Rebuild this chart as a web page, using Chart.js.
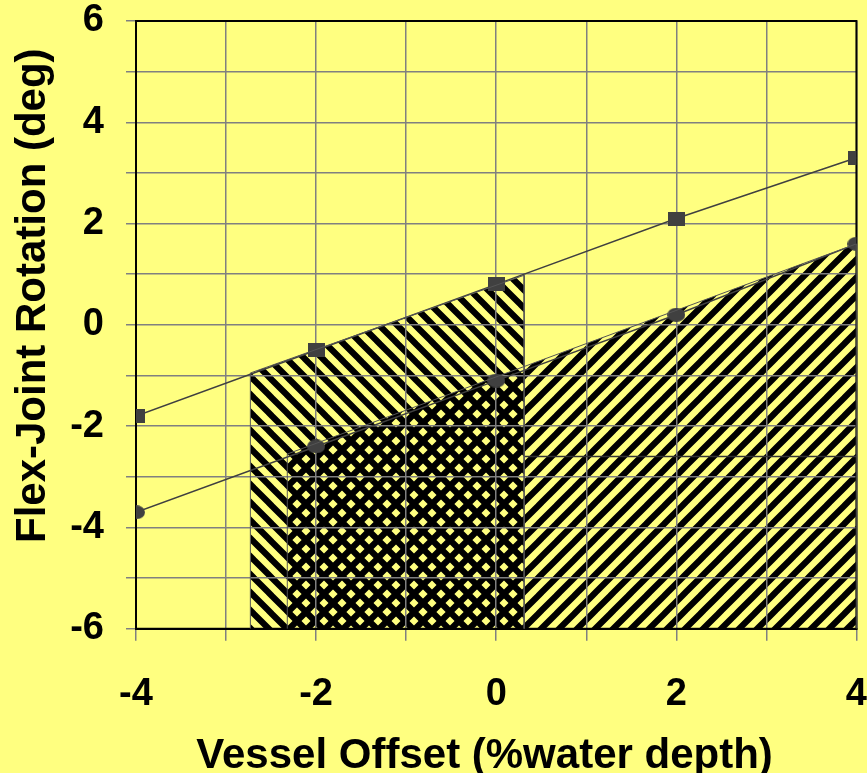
<!DOCTYPE html>
<html>
<head>
<meta charset="utf-8">
<title>Flex-Joint Rotation vs Vessel Offset</title>
<script src="https://cdn.jsdelivr.net/npm/chart.js@4.4.1/dist/chart.umd.min.js"></script>
<style>
  html, body { margin: 0; padding: 0; background: #FFFF80; }
  #wrap { width: 867px; height: 773px; }
</style>
</head>
<body>
<div id="wrap"><canvas id="flexChart" width="867" height="773"></canvas></div>
<script>
// Vessel offset (% water depth) at which rotations were computed
const offsets = [-4, -2, 0, 2, 4];
// Flex-joint rotation (deg), upper curve (square markers)
const rotationUpper = [-1.8, -0.5, 0.8, 2.1, 3.3];
// Flex-joint rotation (deg), lower curve (circle markers)
const rotationLower = [-3.7, -2.4, -1.1, 0.2, 1.6];

// Hatched band under the upper curve ("\\" hatch)
const bandUpperX = [-2.73, -2.73, 0.31, 0.31];
const bandUpperY = [-6, -0.95, 0.98, -6];
// Hatched band under the lower curve ("/" hatch)
const bandLowerX = [-2.32, -2.32, 4, 4];
const bandLowerY = [-6, -2.55, 1.6, -6];
// Faint seam line across the lower band
const seamX = [0.31, 4];
const seamY = [-2.6, -2.6];

// Axis ticks
const xTicks = [-4, -2, 0, 2, 4];
const yTicks = [-6, -4, -2, 0, 2, 4, 6];

const FONT = '"Liberation Sans", Arial, Helvetica, sans-serif';
const markerColor = '#404040';

// Build a diagonal hatch pattern (black stripes on transparent)
function makeHatch(direction) {
  const size = 18;
  const c = document.createElement('canvas');
  c.width = size;
  c.height = size;
  const g = c.getContext('2d');
  g.strokeStyle = '#000';
  g.lineWidth = 6.2;
  g.beginPath();
  if (direction === 'up') {
    // "/" stripes
    for (let k = -1; k <= 1; k++) {
      g.moveTo(k * size - 2, size + 2);
      g.lineTo(k * size + size + 2, -2);
    }
  } else {
    // "\" stripes
    for (let k = -1; k <= 1; k++) {
      g.moveTo(k * size - 2, -2);
      g.lineTo(k * size + size + 2, size + 2);
    }
  }
  g.stroke();
  return g.createPattern(c, 'repeat');
}

// Marker images (slightly wider than tall, like the original)
function makeMarker(shape) {
  const w = shape === 'rect' ? 17 : 18;
  const h = 14;
  const c = document.createElement('canvas');
  c.width = w;
  c.height = h;
  const g = c.getContext('2d');
  g.fillStyle = markerColor;
  if (shape === 'rect') {
    g.fillRect(0, 0, w, h);
  } else {
    g.beginPath();
    g.ellipse(w / 2, h / 2, w / 2, h / 2, 0, 0, Math.PI * 2);
    g.fill();
  }
  return c;
}

function toPoints(xs, ys) {
  return xs.map((x, i) => ({ x: x, y: ys[i] }));
}

// Black frame round the plot area, drawn over the grid
const framePlugin = {
  id: 'frame',
  beforeDatasetsDraw(chart) {
    const { ctx, chartArea: a } = chart;
    ctx.save();
    ctx.strokeStyle = '#000';
    ctx.lineWidth = 2;
    ctx.strokeRect(a.left, a.top, a.right - a.left, a.bottom - a.top);
    ctx.restore();
  }
};

const ctx = document.getElementById('flexChart').getContext('2d');

new Chart(ctx, {
  type: 'scatter',
  data: {
    datasets: [
      {
        label: 'Band lower',
        data: toPoints(bandLowerX, bandLowerY),
        showLine: true,
        borderColor: '#555555',
        borderWidth: 1,
        backgroundColor: makeHatch('up'),
        fill: { target: { value: -6 } },
        pointRadius: 0,
        tension: 0
      },
      {
        label: 'Band upper',
        data: toPoints(bandUpperX, bandUpperY),
        showLine: true,
        borderColor: '#555555',
        borderWidth: 1,
        backgroundColor: makeHatch('down'),
        fill: { target: { value: -6 } },
        pointRadius: 0,
        tension: 0
      },
      {
        label: 'Seam',
        data: toPoints(seamX, seamY),
        showLine: true,
        borderColor: '#333333',
        borderWidth: 1.5,
        pointRadius: 0,
        fill: false
      },
      {
        label: 'Upper',
        data: toPoints(offsets, rotationUpper),
        showLine: true,
        borderColor: markerColor,
        borderWidth: 1.5,
        pointStyle: makeMarker('rect'),
        fill: false,
        tension: 0
      },
      {
        label: 'Lower',
        data: toPoints(offsets, rotationLower),
        showLine: true,
        borderColor: markerColor,
        borderWidth: 1.5,
        pointStyle: makeMarker('circle'),
        fill: false,
        tension: 0
      }
    ]
  },
  options: {
    responsive: false,
    animation: false,
    layout: { padding: { left: 8, right: 0, top: 0, bottom: 0 } },
    plugins: {
      legend: { display: false },
      tooltip: { enabled: false },
      filler: { drawTime: 'beforeDraw' }
    },
    scales: {
      x: {
        type: 'linear',
        min: -4,
        max: 4,
        ticks: {
          stepSize: 1,
          autoSkip: false,
          maxRotation: 0,
          padding: 0,
          color: '#000',
          // tall line box pushes the labels down, away from the axis
          font: { family: FONT, size: 38, weight: 'bold', lineHeight: 2.84 },
          callback: v => (xTicks.includes(v) ? String(v) : '')
        },
        grid: { color: '#808080', lineWidth: 1.5, tickLength: 12, tickColor: '#808080' },
        border: { color: '#000', width: 2 },
        title: {
          display: true,
          text: 'Vessel Offset (%water depth)  ',
          color: '#000',
          font: { family: FONT, size: 42, weight: 'bold', lineHeight: 0.36 },
          padding: { top: 0.6, bottom: 8.6 }
        }
      },
      y: {
        type: 'linear',
        min: -6,
        max: 6,
        // fixed axis width and top padding, so labels can sit away from the ticks
        afterFit(scale) {
          scale.width = 128;
          scale.paddingTop = 21;
          scale.paddingBottom = 21;
        },
        ticks: {
          stepSize: 1,
          autoSkip: false,
          padding: 22,
          color: '#000',
          font: { family: FONT, size: 38, weight: 'bold', lineHeight: 0.9 },
          callback: v => (yTicks.includes(v) ? String(v) : '')
        },
        grid: { color: '#808080', lineWidth: 1.5, tickLength: 10, tickColor: '#808080' },
        border: { color: '#000', width: 2 },
        title: {
          display: true,
          text: '     Flex-Joint Rotation (deg)',
          color: '#000',
          font: { family: FONT, size: 42, weight: 'bold' },
          padding: { top: 0, bottom: 0 }
        }
      }
    }
  },
  plugins: [framePlugin]
});
</script>
</body>
</html>
